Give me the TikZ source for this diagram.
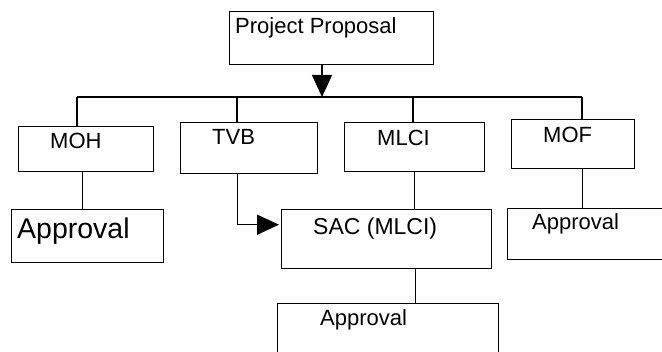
\documentclass[tikz,border=0pt]{standalone}
\usepackage{fontspec}
\setmainfont{Liberation Sans}
\usetikzlibrary{arrows.meta}
\tikzset{
  box/.style={draw, line width=1.4pt, rectangle, inner sep=0pt, anchor=north west},
  lbl/.style={anchor=base west, inner sep=0pt, font=\fontsize{22}{26}\selectfont},
  lblbig/.style={anchor=base west, inner sep=0pt, font=\fontsize{28.5}{32}\selectfont},
  conn/.style={line width=1.4pt},
  arr/.style={line width=1.4pt, -{Triangle[length=22pt,width=20pt]}}
}
\begin{document}
\begin{tikzpicture}[x=1pt,y=-1pt]
\useasboundingbox (0,0) rectangle (662,352);
\clip (0,0) rectangle (662,352);
\fill[white] (0,0) rectangle (662,352);
% boxes
\node[box, minimum width=204pt, minimum height=53pt] (pp) at (229,11) {};
\node[box, minimum width=135pt, minimum height=45pt] (moh) at (18,126) {};
\node[box, minimum width=137pt, minimum height=51pt] (tvb) at (180,122) {};
\node[box, minimum width=140pt, minimum height=49pt] (mlci) at (344,122) {};
\node[box, minimum width=123pt, minimum height=49pt] (mof) at (511,119) {};
\node[box, minimum width=152pt, minimum height=53pt] (appL) at (11,209) {};
\node[box, minimum width=210pt, minimum height=59pt] (sac) at (281,209) {};
\node[box, minimum width=180pt, minimum height=51pt] (appR) at (507,208) {};
\node[box, minimum width=221pt, minimum height=70pt] (appB) at (277,303) {};
% texts
\node[lbl] (tpp) at (235,34) {Project Proposal};
\node[lbl] (tmoh) at (50,149) {MOH};
\node[lbl] (ttvb) at (212,145) {TVB};
\node[lbl] (tmlci) at (377,146) {MLCI};
\node[lbl] (tmof) at (543,143) {MOF};
\node[lblbig] (tappL) at (17,239) {Approval};
\node[lbl, font=\fontsize{23}{27}\selectfont] (tsac) at (313,235) {SAC (MLCI)};
\node[lbl] (tappR) at (532,230) {Approval};
\node[lbl] (tappB) at (320,326) {Approval};
% bus
\coordinate (busL) at (77,97);
\coordinate (busM) at (322,97);
\coordinate (busT) at (237,97);
\coordinate (busC) at (413,97);
\coordinate (busR) at (582,97);
\draw[conn] (busL) -- (busR);
\draw[arr] (pp.south -| busM) -- (busM);
\draw[conn] (busL) -- (busL |- moh.north);
\draw[conn] (busT) -- (busT |- tvb.north);
\draw[conn] (busC) -- (busC |- mlci.north);
\draw[conn] (busR) -- (busR |- mof.north);
% lower connectors
\draw[conn] ([xshift=-3.5pt]moh.south) -- ([xshift=-3.5pt]moh.south |- appL.north);
\draw[conn] (mlci.south) -- (mlci.south |- sac.north);
\draw[conn] ([xshift=29pt]sac.south) -- ([xshift=29pt]sac.south |- appB.north);
\draw[conn] ([xshift=9.5pt]mof.south) -- ([xshift=9.5pt]mof.south |- appR.north);
\draw[arr] ([xshift=-11.5pt]tvb.south) |- ([yshift=14.5pt,xshift=-2pt]sac.west);
\end{tikzpicture}
\end{document}
